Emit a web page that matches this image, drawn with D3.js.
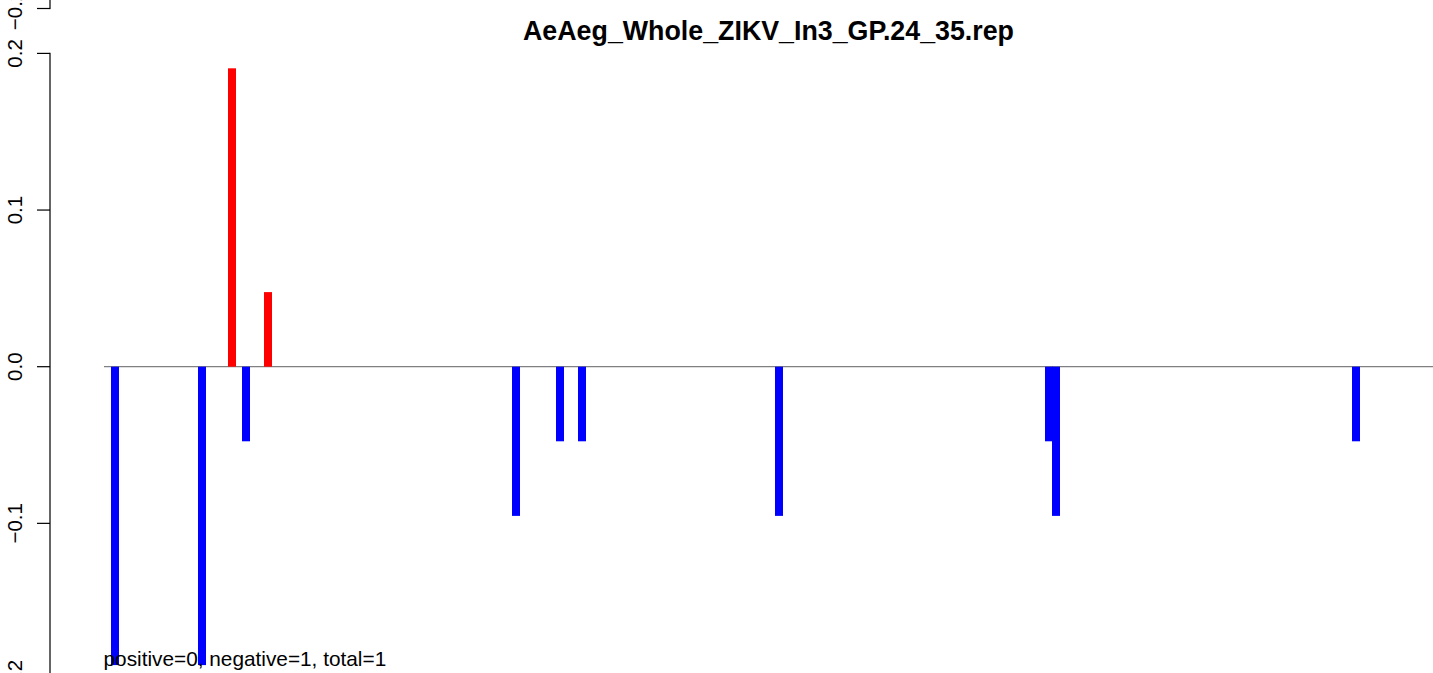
<!DOCTYPE html>
<html>
<head>
<meta charset="utf-8">
<script src="https://cdn.jsdelivr.net/npm/d3@7"></script>
<style>
  html, body { margin: 0; padding: 0; background: #ffffff; }
  svg { display: block; }
  text { font-family: "Liberation Sans", Arial, Helvetica, sans-serif; }
</style>
</head>
<body>
<svg id="chart" width="1433" height="673"></svg>
<script>
// ---- data ----
const positions = [11, 98, 128, 142, 164, 412, 456, 478, 675, 945, 952, 1252];
const values = [-4/21, -4/21, 4/21, -1/21, 1/21, -2/21, -1/21, -1/21, -2/21, -1/21, -2/21, -1/21];
const yTicks = [0.2, 0.1, 0.0, -0.1, -0.2];
const yTickLabels = ["0.2", "0.1", "0.0", "\u22120.1", "\u22120.2"];
const titleText = "AeAeg_Whole_ZIKV_In3_GP.24_35.rep";
const footText = "positive=0, negative=1, total=1";
const prevPanelTick = [-0.2];
const prevPanelLabel = ["\u22120.2"];

// ---- layout ----
const W = 1433, H = 673;
const svg = d3.select("#chart");
const x = d3.scaleLinear().domain([0, 1329]).range([104, 1433]);
const y = d3.scaleLinear().domain([-0.2, 0.2]).range([680, 53.4]);
const barW = 8;
const axisX = 50;
const tickLen = 13;
const labelX = 21.5;
const labelSize = 20.5;

// zero baseline
svg.append("line")
  .attr("x1", x(0)).attr("x2", x(1329))
  .attr("y1", y(0)).attr("y2", y(0))
  .attr("stroke", "#808080").attr("stroke-width", 1.2);

// bars
const data = positions.map((p, i) => ({ p, v: values[i] }));
svg.append("g").selectAll("rect").data(data).enter().append("rect")
  .attr("x", d => x(d.p) - barW / 2)
  .attr("width", barW)
  .attr("y", d => y(Math.max(0, d.v)))
  .attr("height", d => Math.abs(y(d.v) - y(0)))
  .attr("fill", d => d.v > 0 ? "#ff0000" : "#0000ff");

// y axis (R style): spine from top tick downward, ticks to the left
const axisG = svg.append("g");
axisG.append("rect")
  .attr("x", axisX - 0.6).attr("width", 1.2)
  .attr("y", y(0.2) - 0.6).attr("height", H - y(0.2) + 10)
  .attr("fill", "#000");
axisG.selectAll("rect.tick").data(yTicks).enter().append("rect")
  .attr("class", "tick")
  .attr("x", axisX - tickLen).attr("width", tickLen)
  .attr("y", d => y(d) - 0.6).attr("height", 1.2)
  .attr("fill", "#000");
axisG.selectAll("text").data(yTicks).enter().append("text")
  .attr("transform", d => `translate(${labelX},${y(d)}) rotate(-90)`)
  .attr("text-anchor", "middle")
  .attr("font-size", labelSize)
  .attr("fill", "#000")
  .text((d, i) => yTickLabels[i]);

// remnant of the panel above (its lowest tick)
const yPrev = d3.scaleLinear().domain([-0.2, 0.2]).range([8.5, -618]);
const prevG = svg.append("g");
prevG.append("rect")
  .attr("x", axisX - 0.6).attr("width", 1.2)
  .attr("y", -5).attr("height", yPrev(prevPanelTick[0]) + 5.6)
  .attr("fill", "#000");
prevG.append("rect")
  .attr("x", axisX - tickLen).attr("width", tickLen)
  .attr("y", yPrev(prevPanelTick[0]) - 0.6).attr("height", 1.2)
  .attr("fill", "#000");
prevG.append("text")
  .attr("transform", `translate(${labelX},${yPrev(prevPanelTick[0]) + 1.5}) rotate(-90)`)
  .attr("text-anchor", "middle").attr("font-size", labelSize).attr("fill", "#000")
  .text(prevPanelLabel[0]);

// title
svg.append("text")
  .attr("x", 768.5).attr("y", 40)
  .attr("text-anchor", "middle")
  .attr("font-size", 26.8).attr("font-weight", "bold")
  .attr("fill", "#000")
  .text(titleText);

// footer text
svg.append("text")
  .attr("x", 103.5).attr("y", 666)
  .attr("font-size", 20.8)
  .attr("fill", "#000")
  .text(footText);
</script>
</body>
</html>
